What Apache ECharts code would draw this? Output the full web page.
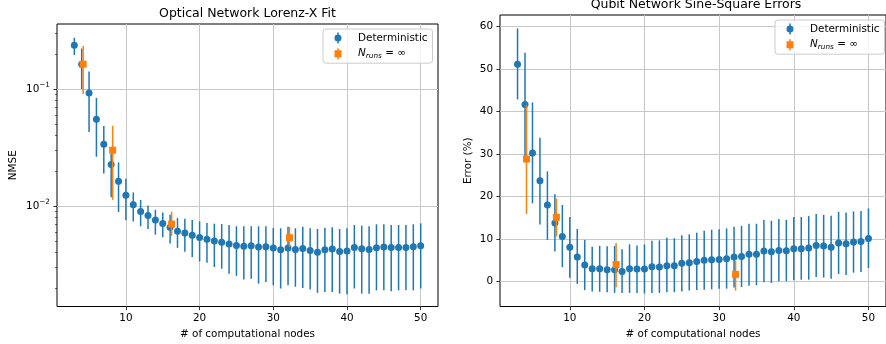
<!DOCTYPE html>
<html>
<head>
<meta charset="utf-8">
<script src="https://cdn.jsdelivr.net/npm/echarts@6/dist/echarts.min.js"></script>
<style>
  html, body { margin: 0; padding: 0; background: #fff; }
  #chart { width: 886px; height: 344px; }
</style>
</head>
<body>
<div id="chart"></div>
<script>
// computational nodes (x) for the deterministic runs
const nodes = [3, 4, 5, 6, 7, 8, 9, 10, 11, 12, 13, 14, 15, 16, 17, 18, 19, 20, 21, 22, 23, 24, 25, 26,
  27, 28, 29, 30, 31, 32, 33, 34, 35, 36, 37, 38, 39, 40, 41, 42, 43, 44, 45, 46, 47, 48, 49, 50];

// left panel: NMSE (log scale)
const nmseDet = [0.236, 0.163, 0.0925, 0.0553, 0.0337, 0.0227, 0.0163, 0.0124, 0.0103, 0.0090, 0.0083, 0.0076,
  0.0071, 0.0066, 0.0061, 0.0059, 0.00564, 0.0054, 0.00522, 0.00505, 0.00492, 0.00476, 0.00461, 0.00455,
  0.00458, 0.00447, 0.0045, 0.00438, 0.00424, 0.00438, 0.00427, 0.00435, 0.00418, 0.00404, 0.00424, 0.0043,
  0.0041, 0.00413, 0.00444, 0.00432, 0.00427, 0.00441, 0.00447, 0.00444, 0.00444, 0.00444, 0.0045, 0.00458];
const nmseDetLo = [0.195, 0.10, 0.043, 0.0264, 0.019, 0.0119, 0.0089, 0.00757, 0.0074, 0.00673, 0.00638, 0.00571,
  0.00542, 0.0048, 0.0044, 0.00407, 0.00367, 0.00337, 0.00329, 0.00302, 0.00292, 0.00265, 0.00254, 0.00236,
  0.0024, 0.00218, 0.00225, 0.00211, 0.00198, 0.00211, 0.00205, 0.002, 0.00194, 0.00182, 0.00185, 0.00185,
  0.00179, 0.00177, 0.00198, 0.00179, 0.00179, 0.00191, 0.00191, 0.00188, 0.00191, 0.00191, 0.00191, 0.00198];
const nmseDetHi = [0.274, 0.222, 0.141, 0.084, 0.0483, 0.0281, 0.0236, 0.0171, 0.0131, 0.0113, 0.0101, 0.0093,
  0.00883, 0.00845, 0.00791, 0.00781, 0.0076, 0.00741, 0.00717, 0.00708, 0.00703, 0.0069, 0.00673, 0.00673,
  0.00673, 0.00673, 0.00673, 0.00652, 0.00647, 0.00668, 0.00647, 0.00668, 0.00647, 0.00638, 0.00655, 0.00659,
  0.00638, 0.00647, 0.0069, 0.00681, 0.00673, 0.007, 0.007, 0.0069, 0.0069, 0.0069, 0.007, 0.00713];

// N_runs = inf runs
const infNodes = [4, 8, 16, 32];
const nmseInf = [0.163, 0.030, 0.00703, 0.00538];
const nmseInfLo = [0.0907, 0.0113, 0.00557, 0.00449];
const nmseInfHi = [0.233, 0.0485, 0.00896, 0.00663];

// right panel: error in %
const errDet = [51.1, 41.6, 30.2, 23.7, 18.0, 13.75, 10.6, 8.05, 5.8, 3.9, 3.0, 3.0, 2.8, 2.8, 2.4, 3.05,
  2.95, 2.95, 3.5, 3.45, 3.75, 3.7, 4.3, 4.45, 4.7, 5.0, 5.15, 5.2, 5.4, 5.8, 5.9, 6.4, 6.4, 7.2, 7.0, 7.3,
  7.25, 7.7, 7.7, 7.9, 8.5, 8.35, 8.1, 9.05, 8.9, 9.3, 9.45, 10.15];
const errDetLo = [42.8, 29.5, 18.4, 13.4, 9.8, 7.1, 3.4, 0.9, -0.55, -2.0, -2.3, -2.4, -2.5, -2.65, -2.65, -2.65,
  -2.65, -2.8, -2.65, -2.65, -2.5, -2.5, -2.3, -2.1, -2.0, -1.9, -1.8, -1.65, -1.65, -1.4, -1.3, -0.95, -0.85,
  -0.15, -0.3, 0.1, 0.1, 0.3, 0.45, 0.45, 1.1, 0.95, 0.7, 1.8, 1.55, 2.1, 2.25, 3.2];
const errDetHi = [59.5, 53.75, 42.1, 33.8, 25.9, 20.5, 18.0, 15.2, 12.4, 9.8, 8.2, 8.4, 8.3, 8.4, 7.6, 8.75,
  8.5, 8.75, 9.6, 9.7, 10.3, 10.2, 10.9, 11.1, 11.5, 11.95, 12.2, 12.3, 12.5, 12.9, 13.1, 13.6, 13.6, 14.5,
  14.3, 14.7, 14.5, 15.2, 15.2, 15.4, 15.9, 15.7, 15.5, 16.4, 16.25, 16.5, 16.6, 17.2];
const errInf = [28.8, 15.1, 4.0, 1.7];
const errInfLo = [15.9, 10.6, -1.3, -2.1];
const errInfHi = [41.5, 19.5, 9.1, 4.9];

// axis ticks
const nodeTicks = [10, 20, 30, 40, 50];
const nmseTicks = [0.01, 0.1];
const nmseMinorTicks = [0.002, 0.003, 0.004, 0.005, 0.006, 0.007, 0.008, 0.009,
  0.02, 0.03, 0.04, 0.05, 0.06, 0.07, 0.08, 0.09, 0.2, 0.3];
const errTicks = [0, 10, 20, 30, 40, 50, 60];

const BLUE = '#1f77b4';
const ORANGE = '#ff7f0e';
const FONT = 'DejaVu Sans';
const DODGE = 0.2; // orange points sit a little right of the blue ones

const chart = echarts.init(document.getElementById('chart'), null, { renderer: 'canvas' });

const pts = (xs, ys) => xs.map((x, i) => [x, ys[i]]);
const bars = (xs, lo, hi) => xs.map((x, i) => [x, lo[i], hi[i]]);
const shift = (xs) => xs.map((x) => x + DODGE);

const errRender = (color) => (params, api) => {
  const a = api.coord([api.value(0), api.value(1)]);
  const b = api.coord([api.value(0), api.value(2)]);
  return {
    type: 'line',
    shape: { x1: a[0], y1: a[1], x2: b[0], y2: b[1] },
    style: { stroke: color, lineWidth: 1.5 }
  };
};

const errSeries = (name, idx, data, color, z) => ({
  name,
  type: 'custom',
  xAxisIndex: idx,
  yAxisIndex: idx,
  data,
  encode: { x: 0, y: [1, 2] },
  renderItem: errRender(color),
  silent: true,
  z
});
const dotSeries = (name, idx, data, color, symbol, z) => ({
  name,
  type: 'scatter',
  xAxisIndex: idx,
  yAxisIndex: idx,
  data,
  symbol,
  symbolSize: 7,
  itemStyle: { color, opacity: 1 },
  emphasis: { disabled: true },
  silent: true,
  z
});

const axisText = { fontFamily: FONT, fontSize: 10.4, color: '#000' };

const xAxisCfg = (gridIndex) => ({
  type: 'value',
  gridIndex,
  min: 0.65,
  max: 52.35,
  name: '# of computational nodes',
  nameLocation: 'middle',
  nameGap: 22.5,
  nameTextStyle: axisText,
  axisLine: { show: false, onZero: false },
  axisTick: { show: true, length: 3.6, customValues: nodeTicks, lineStyle: { color: '#000', width: 0.8 } },
  axisLabel: { ...axisText, margin: 7, customValues: nodeTicks },
  splitLine: { show: true, lineStyle: { color: '#c8c8c8', width: 1 } }
});

// legend icons: marker with an error bar through it
const dotIcon = 'path://M3.25,0h1.5v11h-1.5z M4,2a3.5,3.5 0 1,1 -0.001,0z';
const squareIcon = 'path://M3.25,0h1.5v11h-1.5z M0.5,2h7v7h-7z';

const legendCfg = (left, top) => ({
  left,
  top,
  orient: 'vertical',
  selectedMode: false,
  padding: [3.5, 5, 4, 11.5],
  itemWidth: 30,
  itemHeight: 11,
  itemGap: 4.7,
  backgroundColor: 'rgba(255,255,255,0.8)',
  borderColor: '#cccccc',
  borderWidth: 1,
  borderRadius: 3,
  data: [
    { name: 'Deterministic', icon: dotIcon, itemStyle: { color: BLUE } },
    { name: 'Nruns', icon: squareIcon, itemStyle: { color: ORANGE } }
  ],
  formatter: (name) => (name === 'Nruns' ? '{i|N}{s|runs}{t| = ∞}' : name),
  textStyle: {
    fontFamily: FONT,
    fontSize: 10.4,
    lineHeight: 11,
    color: '#000',
    rich: {
      i: { fontFamily: FONT, fontSize: 10.4, fontStyle: 'italic', lineHeight: 11 },
      s: { fontFamily: FONT, fontSize: 7.3, fontStyle: 'italic', lineHeight: 11, padding: [4, 0, 0, 0] },
      t: { fontFamily: FONT, fontSize: 10.4, lineHeight: 11 }
    }
  }
});

const option = {
  animation: false,
  backgroundColor: '#fff',
  graphic: [
    {
      type: 'text', x: 247.5, y: 13.5,
      style: { text: 'Optical Network Lorenz-X Fit', font: '12.5px "DejaVu Sans"', fill: '#000',
        align: 'center', verticalAlign: 'middle', textAlign: 'center', textVerticalAlign: 'middle' }
    },
    {
      type: 'text', x: 696, y: 4.5,
      style: { text: 'Qubit Network Sine-Square Errors', font: '12.5px "DejaVu Sans"', fill: '#000',
        align: 'center', verticalAlign: 'middle', textAlign: 'center', textVerticalAlign: 'middle' }
    }
  ],
  grid: [
    { left: 57, right: 448, top: 24, bottom: 36, show: true, borderColor: '#000', borderWidth: 1,
      backgroundColor: 'transparent', containLabel: false },
    { left: 500, right: -7, top: 15, bottom: 37, show: true, borderColor: '#000', borderWidth: 1,
      backgroundColor: 'transparent', containLabel: false }
  ],
  legend: [legendCfg(323, 29), legendCfg(775, 20)],
  xAxis: [xAxisCfg(0), xAxisCfg(1)],
  yAxis: [
    {
      type: 'log',
      logBase: 10,
      gridIndex: 0,
      min: 0.00139,
      max: 0.359,
      name: 'NMSE',
      nameLocation: 'middle',
      nameGap: 39,
      nameTextStyle: axisText,
      axisLine: { show: false, onZero: false },
      axisTick: { show: true, length: 3.6, customValues: nmseTicks, lineStyle: { color: '#000', width: 0.8 } },
      axisLabel: {
        ...axisText,
        margin: 7,
        customValues: nmseTicks,
        formatter: (v) => '{m|10}{e|\u2212' + Math.round(-Math.log10(v)) + '}',
        rich: {
          m: { fontFamily: FONT, fontSize: 10.4, lineHeight: 11, color: '#000' },
          e: { fontFamily: FONT, fontSize: 7.3, lineHeight: 11, padding: [0, 0, 8, 0], color: '#000' }
        }
      },
      splitLine: { show: true, lineStyle: { color: '#c8c8c8', width: 1 } }
    },
    {
      type: 'value',
      gridIndex: 1,
      min: -5.85,
      max: 62.65,
      name: 'Error (%)',
      nameLocation: 'middle',
      nameGap: 27,
      nameTextStyle: axisText,
      axisLine: { show: false, onZero: false },
      axisTick: { show: true, length: 3.6, customValues: errTicks, lineStyle: { color: '#000', width: 0.8 } },
      axisLabel: { ...axisText, margin: 7, customValues: errTicks },
      splitLine: { show: true, lineStyle: { color: '#c8c8c8', width: 1 } }
    },
    {
      // minor ticks for the log axis
      type: 'log',
      logBase: 10,
      gridIndex: 0,
      position: 'left',
      min: 0.00139,
      max: 0.359,
      axisLine: { show: false, onZero: false },
      axisTick: { show: true, length: 2, customValues: nmseMinorTicks, lineStyle: { color: '#000', width: 0.6 } },
      axisLabel: { show: false },
      splitLine: { show: false }
    }
  ],
  series: [
    errSeries('Deterministic bars', 0, bars(nodes, nmseDetLo, nmseDetHi), BLUE, 2),
    dotSeries('Deterministic', 0, pts(nodes, nmseDet), BLUE, 'circle', 3),
    errSeries('Nruns bars', 0, bars(shift(infNodes), nmseInfLo, nmseInfHi), ORANGE, 4),
    dotSeries('Nruns', 0, pts(shift(infNodes), nmseInf), ORANGE, 'rect', 5),

    errSeries('Deterministic bars', 1, bars(nodes, errDetLo, errDetHi), BLUE, 2),
    dotSeries('Deterministic', 1, pts(nodes, errDet), BLUE, 'circle', 3),
    errSeries('Nruns bars', 1, bars(shift(infNodes), errInfLo, errInfHi), ORANGE, 4),
    dotSeries('Nruns', 1, pts(shift(infNodes), errInf), ORANGE, 'rect', 5)
  ]
};

chart.setOption(option);
</script>
</body>
</html>
